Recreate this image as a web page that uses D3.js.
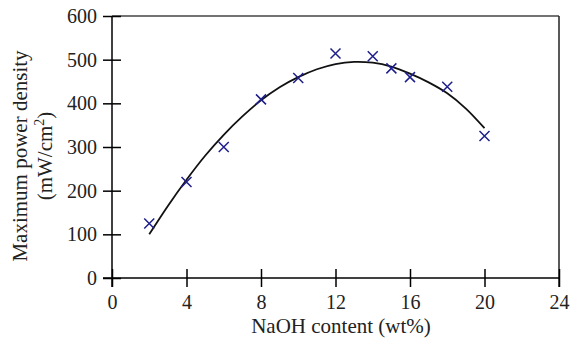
<!DOCTYPE html>
<html>
<head>
<meta charset="utf-8">
<script src="https://cdn.jsdelivr.net/npm/d3@7"></script>
<style>
  body { margin: 0; background: #fff; }
  svg { display: block; font-family: "Liberation Serif", "Times New Roman", serif; }
</style>
</head>
<body>
<svg id="chart" width="572" height="338"></svg>
<script>
// measured points (NaOH wt%, max power density mW/cm2)
const naoh = [2, 4, 6, 8, 10, 12, 14, 15, 16, 18, 20];
const power = [125, 220, 300, 409, 458, 514, 508, 480, 460, 438, 325];

// fitted curve
const fitX = [2, 3, 4, 5, 6, 7, 8, 9, 10, 11, 12, 13, 14, 15, 16, 17, 18, 19, 20];
const fitY = [100, 165, 225, 280, 328, 370, 407, 437, 460, 478, 490, 495, 493, 484, 468, 448, 423, 388, 343];

const xTicks = [0, 4, 8, 12, 16, 20, 24];
const yTicks = [0, 100, 200, 300, 400, 500, 600];

const svg = d3.select('#chart');
const plotL = 112, plotR = 559, plotT = 16, plotB = 278;

const x = d3.scaleLinear().domain([0, 24]).range([plotL, plotR]);
const y = d3.scaleLinear().domain([0, 600]).range([plotB, plotT]);

// frame on top and right
svg.append('line')
    .attr('x1', plotL).attr('x2', plotR).attr('y1', plotT).attr('y2', plotT)
    .attr('stroke', '#444').attr('stroke-width', 1.5);
svg.append('line')
    .attr('x1', plotR).attr('x2', plotR).attr('y1', plotT).attr('y2', plotB + 9)
    .attr('stroke', '#222').attr('stroke-width', 1.5);

// x axis
const gx = svg.append('g')
    .attr('transform', `translate(0,${plotB})`)
    .call(d3.axisBottom(x).tickValues(xTicks).tickSize(9).tickPadding(8).tickSizeOuter(0));
gx.select('.domain').attr('d', `M${plotL - 9},0H${plotR}`).attr('stroke-width', 1.5);
gx.selectAll('.tick line').attr('y1', -9).attr('y2', 9).attr('stroke-width', 1.5);
gx.selectAll('.tick text')
    .attr('font-size', 20).attr('font-family', '"Liberation Serif", serif')
    .attr('fill', '#222').attr('dy', '0.7em');

// y axis
const gy = svg.append('g')
    .attr('transform', `translate(${plotL},0)`)
    .call(d3.axisLeft(y).tickValues(yTicks).tickSize(9).tickPadding(6).tickSizeOuter(0));
gy.select('.domain').attr('d', `M0,${plotT}V${plotB + 9}`).attr('stroke-width', 1.5);
gy.selectAll('.tick line').attr('x1', -9).attr('x2', 9).attr('stroke-width', 1.5);
gy.selectAll('.tick text')
    .attr('font-size', 20).attr('font-family', '"Liberation Serif", serif')
    .attr('fill', '#222');

// fitted curve
const line = d3.line()
    .x((d, i) => x(fitX[i]))
    .y(d => y(d))
    .curve(d3.curveCatmullRom);
svg.append('path')
    .attr('d', line(fitY))
    .attr('fill', 'none')
    .attr('stroke', '#111')
    .attr('stroke-width', 1.8);

// x markers
const s = 5;
svg.append('g').selectAll('path')
    .data(naoh)
    .enter()
    .append('path')
    .attr('d', (d, i) => {
        const cx = x(d), cy = y(power[i]);
        return `M${cx - s},${cy - s}L${cx + s},${cy + s}M${cx - s},${cy + s}L${cx + s},${cy - s}`;
    })
    .attr('stroke', '#1e1e8c')
    .attr('stroke-width', 1.5)
    .attr('fill', 'none');

// axis titles
svg.append('text')
    .attr('x', 341).attr('y', 333)
    .attr('text-anchor', 'middle')
    .attr('font-size', 21)
    .attr('fill', '#222')
    .text('NaOH content (wt%)');

const yt = svg.append('g').attr('transform', 'translate(0,156) rotate(-90)');
yt.append('text')
    .attr('x', 0).attr('y', 27)
    .attr('text-anchor', 'middle')
    .attr('font-size', 21)
    .attr('fill', '#222')
    .text('Maximum power density');
const t2 = yt.append('text')
    .attr('x', 0).attr('y', 52)
    .attr('text-anchor', 'middle')
    .attr('font-size', 21)
    .attr('fill', '#222');
t2.append('tspan').text('(mW/cm');
t2.append('tspan').attr('font-size', 14).attr('dy', -8).text('2');
t2.append('tspan').attr('dy', 8).text(')');
</script>
</body>
</html>
